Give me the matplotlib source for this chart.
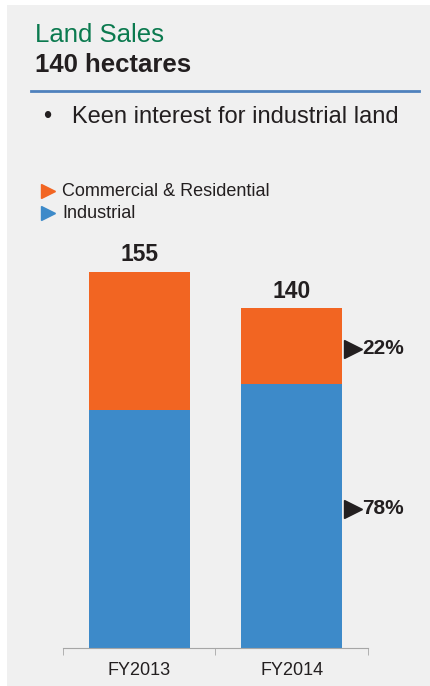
import matplotlib.pyplot as plt
from matplotlib.lines import Line2D
from matplotlib.patches import Rectangle
import matplotlib.transforms as mtransforms

plt.rcParams['font.family'] = ['Liberation Sans', 'DejaVu Sans']

# land sales in hectares
years = ["FY2013", "FY2014"]
industrial = [98, 109]
commercial = [57, 31]
totals = [155, 140]
pct_labels = {1: ("78%", "22%")}

ORANGE = "#f26522"
BLUE = "#3d8ac9"
GREEN = "#0b7a4f"
DARK = "#231f20"
BG = "#f0f0f0"

W, H = 431, 686
fig = plt.figure(figsize=(W / 100, H / 100), dpi=100, facecolor="white")


def fx(px):
    return px / W


def fy(py):
    return 1 - py / H


# grey panel
fig.add_artist(Rectangle((fx(7), -0.05), 1.1, fy(5) + 0.05, transform=fig.transFigure,
                         facecolor=BG, edgecolor="none", zorder=0))

# header
fig.text(fx(35), fy(42), "Land Sales", color=GREEN, fontsize=18.5, va="baseline")
fig.text(fx(35), fy(72), "140 hectares", color=DARK, fontsize=18.5,
         fontweight="bold", va="baseline")
fig.add_artist(Line2D([fx(31), fx(419)], [fy(91), fy(91)], transform=fig.transFigure,
                      color="#4f81bd", lw=2))
fig.text(fx(43), fy(123), "•", color=DARK, fontsize=17, va="baseline")
fig.text(fx(72), fy(123), "Keen interest for industrial land", color=DARK,
         fontsize=17, va="baseline")

# legend
for label, color, py in [("Commercial & Residential", ORANGE, 191),
                         ("Industrial", BLUE, 213)]:
    fig.add_artist(Line2D([fx(48)], [fy(py)], transform=fig.transFigure, marker=">",
                          markersize=10, color=color, linestyle="none"))
    fig.text(fx(62), fy(py), label, color=DARK, fontsize=13, va="center")

# stacked bars
ax = fig.add_axes([fx(63), fy(648), fx(368) - fx(63), (648 - 272) / H])
ax.set_facecolor("none")
x = list(range(len(years)))
width = 0.66
ax.bar(x, industrial, width, color=BLUE, zorder=2)
ax.bar(x, commercial, width, bottom=industrial, color=ORANGE, zorder=2)
ax.set_xlim(-0.5, 1.5)
ax.set_ylim(0, 155)

for xi, t in zip(x, totals):
    ax.annotate(str(t), (xi, t), xytext=(0, 4), textcoords="offset points",
                ha="center", va="bottom", fontsize=16.5, fontweight="bold",
                color=DARK, annotation_clip=False)

for xi, (p_ind, p_com) in pct_labels.items():
    for yval, txt, dy in [(industrial[xi] / 2, p_ind, 5),
                          (industrial[xi] + commercial[xi] / 2, p_com, -2)]:
        marker_tr = mtransforms.offset_copy(ax.transData, fig=fig, x=11, y=dy * 100 / 72,
                                            units="dots")
        ax.plot([xi + width / 2], [yval], marker=">", markersize=12.5, color=DARK,
                transform=marker_tr, clip_on=False, linestyle="none")
        ax.annotate(txt, (xi + width / 2, yval), xytext=(14.5, dy),
                    textcoords="offset points", ha="left", va="center",
                    fontsize=15, fontweight="bold", color=DARK,
                    annotation_clip=False)

for side in ["left", "right", "top"]:
    ax.spines[side].set_visible(False)
ax.spines["bottom"].set_color("#a6a6a6")
ax.set_yticks([])
ax.set_xticks(x)
ax.set_xticklabels(years, fontsize=13, color=DARK)
ax.tick_params(axis="x", which="major", length=0, pad=10)
ax.set_xticks([-0.5, 0.5, 1.5], minor=True)
ax.tick_params(axis="x", which="minor", length=5, color="#a6a6a6")

fig.savefig("out.png", dpi=100, facecolor=fig.get_facecolor())
